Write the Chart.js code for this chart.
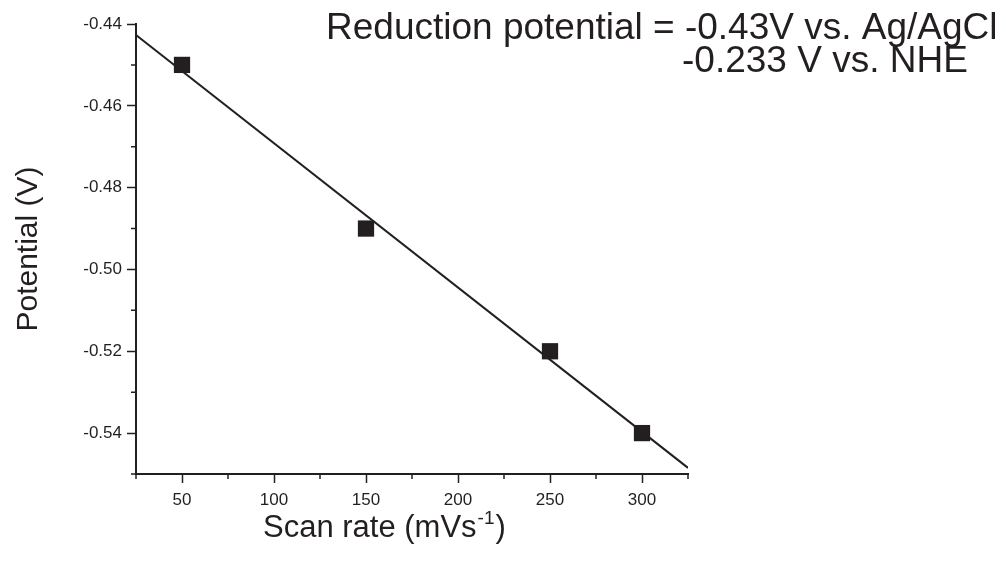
<!DOCTYPE html>
<html>
<head>
<meta charset="utf-8">
<script src="https://cdn.jsdelivr.net/npm/chart.js@4/dist/chart.umd.min.js"></script>
<style>
  html, body { margin:0; padding:0; background:#fff; }
  #wrap { width:1006px; height:565px; position:relative; }
</style>
</head>
<body>
<div id="wrap"><canvas id="potChart"></canvas></div>
<script>
// ---- data ----
const scanRate  = [50, 150, 250, 300];
const potential = [-0.45, -0.49, -0.52, -0.54];
// fitted line, end points
const fitX = [25, 325];
const fitY = [-0.4427, -0.5485];

const xMajor = [50, 100, 150, 200, 250, 300];
const xMinor = [25, 75, 125, 175, 225, 275, 325];
const yMajor = [-0.54, -0.52, -0.50, -0.48, -0.46, -0.44];
const yMinor = [-0.55, -0.53, -0.51, -0.49, -0.47, -0.45];

const noteLines = ['Reduction potential = -0.43V vs. Ag/AgCl', '-0.233 V vs. NHE'];
const yTitle = 'Potential (V)';
const xTitle = ['Scan rate (mVs', '-1', ')'];

const INK = '#231f20';
const FONT = '"Liberation Sans", Arial, sans-serif';

// minor ticks + free text (titles, annotation)
const extras = {
  id:'extras',
  afterDraw(chart) {
    const ctx = chart.ctx, xs = chart.scales.x, ys = chart.scales.y;
    const ca = chart.chartArea;
    ctx.save();
    ctx.strokeStyle = INK; ctx.lineWidth = 1.5;
    ctx.beginPath();
    xMinor.forEach(v => { const p = xs.getPixelForValue(v); ctx.moveTo(p, ca.bottom); ctx.lineTo(p, ca.bottom+5); });
    yMinor.forEach(v => { const p = ys.getPixelForValue(v); ctx.moveTo(ca.left, p); ctx.lineTo(ca.left-5, p); });
    ctx.stroke();

    ctx.fillStyle = INK;
    ctx.textBaseline = 'alphabetic';
    ctx.textAlign = 'left';
    ctx.font = '37px ' + FONT;
    ctx.fillText(noteLines[0], 326, 39);
    ctx.fillText(noteLines[1], 682, 72);

    // x title with superscript
    ctx.font = '31px ' + FONT;
    let x = 263;
    ctx.fillText(xTitle[0], x, 537); x += ctx.measureText(xTitle[0]).width + 1;
    ctx.font = '19px ' + FONT;
    ctx.fillText(xTitle[1], x, 524); x += ctx.measureText(xTitle[1]).width + 1;
    ctx.font = '31px ' + FONT;
    ctx.fillText(xTitle[2], x, 537);

    // y title
    ctx.translate(29, 249);
    ctx.rotate(-Math.PI/2);
    ctx.textAlign = 'center'; ctx.textBaseline = 'middle';
    ctx.font = '30px ' + FONT;
    ctx.fillText(yTitle, 0, 0);
    ctx.restore();
  }
};

const tickFont = { family:FONT, size:17 };

new Chart(document.getElementById('potChart'), {
  type:'scatter',
  data:{ datasets:[
    { data:fitX.map((v,i)=>({x:v, y:fitY[i]})), showLine:true, borderColor:INK, borderWidth:2, pointRadius:0, order:2 },
    { data:scanRate.map((v,i)=>({x:v, y:potential[i]})), pointStyle:'rect', pointRadius:11.5, pointHoverRadius:11.5,
      backgroundColor:INK, borderColor:INK, borderWidth:0, order:1 },
  ]},
  options:{
    responsive:true, maintainAspectRatio:false, animation:false,
    layout:{ padding:{ top:24, right:318, left:0, bottom:0 } },
    plugins:{ legend:{display:false}, tooltip:{enabled:false} },
    scales:{
      x:{
        type:'linear', min:25, max:325,
        afterBuildTicks:s => { s.ticks = xMajor.map(v=>({value:v})); },
        afterFit:s => { s.height = 91; },
        ticks:{ font:tickFont, color:INK, padding:7, maxRotation:0, autoSkip:false, callback:v=>String(v) },
        grid:{ display:true, drawOnChartArea:false, drawTicks:true, tickLength:9, tickWidth:1.5, tickColor:INK },
        border:{ display:true, color:INK, width:2 },
      },
      y:{
        type:'linear', min:-0.55, max:-0.44,
        afterBuildTicks:s => { s.ticks = yMajor.map(v=>({value:v})); },
        afterFit:s => { s.width = 136; },
        ticks:{ font:tickFont, color:INK, padding:5, autoSkip:false, callback:v=>v.toFixed(2) },
        grid:{ display:true, drawOnChartArea:false, drawTicks:true, tickLength:9, tickWidth:1.5, tickColor:INK },
        border:{ display:true, color:INK, width:2 },
      },
    },
  },
  plugins:[extras],
});
</script>
</body>
</html>
